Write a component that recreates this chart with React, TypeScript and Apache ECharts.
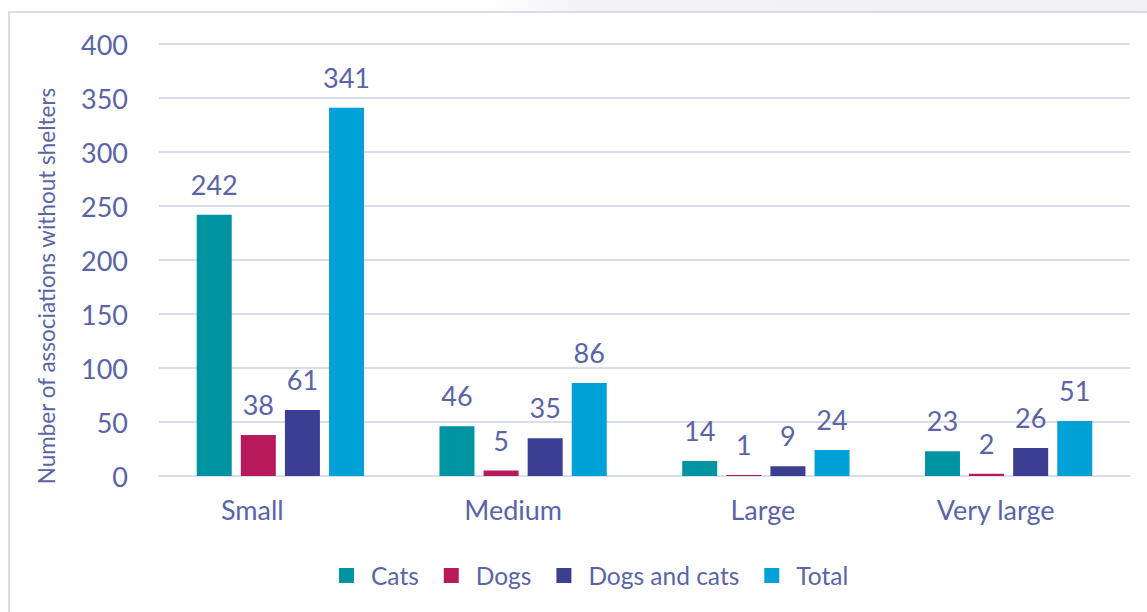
import React, { useEffect, useRef } from "react";
import * as echarts from "echarts";

const categories = ["Small", "Medium", "Large", "Very large"];
const categoryShift = [56, 20, 6, 26];
const seriesNames = ["Cats", "Dogs", "Dogs and cats", "Total"];
const cats = [242, 46, 14, 23];
const dogs = [38, 5, 1, 2];
const dogsAndCats = [61, 35, 9, 26];
const total = [341, 86, 24, 51];
const yTicks = [0, 50, 100, 150, 200, 250, 300, 350, 400];
const yTitle = "Number of associations without shelters";

const colors = ["#0093A1", "#B8195A", "#3C3F91", "#00A1D6"];
const textColor = "#5A64A6";
const font = "Lato";

export default function App() {
  const ref = useRef<HTMLDivElement>(null);
  useEffect(() => {
    document.body.style.margin = "0";
    const chart = echarts.init(ref.current!, null, { renderer: "svg" });
    const data = [cats, dogs, dogsAndCats, total];
    chart.setOption({
      animation: false,
      backgroundColor: "#ffffff",
      textStyle: { fontFamily: font },
      grid: { left: 159, right: 17, top: 44, bottom: 136 },
      legend: {
        left: 334,
        top: 558,
        itemWidth: 15,
        itemHeight: 15,
        itemGap: 25,
        icon: "rect",
        data: seriesNames,
        textStyle: { color: textColor, fontSize: 24.5, fontFamily: font, padding: [0, 0, 0, 12] },
      },
      graphic: [
        {
          type: "rect",
          shape: { x: 480, y: 0, width: 680, height: 12 },
          style: {
            fill: new echarts.graphic.LinearGradient(0, 0, 1, 0, [
              { offset: 0, color: "rgba(240,240,244,0)" },
              { offset: 0.15, color: "rgba(240,240,244,0.8)" },
              { offset: 1, color: "rgba(240,240,244,0.9)" },
            ]),
          },
          z: -2,
          silent: true,
        },
        {
          type: "rect",
          shape: { x: 9, y: 12, width: 1300, height: 800 },
          style: { fill: "none", stroke: "#D8DBEE", lineWidth: 2 },
          z: -1,
          silent: true,
        },
        {
          type: "text",
          x: 46,
          y: 286,
          rotation: Math.PI / 2,
          style: {
            text: yTitle,
            fill: textColor,
            fontSize: 22.5,
            fontFamily: font,
            align: "center",
            verticalAlign: "middle",
          },
          silent: true,
        },
      ],
      xAxis: {
        type: "category",
        data: categories.map((c, i) => ({
          value: c,
          textStyle: { padding: [0, categoryShift[i], 0, 0] },
        })),
        axisLine: { show: true, lineStyle: { color: "#D9DCEF", width: 2 } },
        axisTick: { show: false },
        axisLabel: { color: textColor, fontSize: 27, fontFamily: font, margin: 20 },
      },
      yAxis: {
        type: "value",
        min: 0,
        max: 400,
        interval: 50,
        axisLine: { show: false },
        axisTick: { show: false },
        splitLine: { lineStyle: { color: "#D9DCEF", width: 2 } },
        axisLabel: {
          color: textColor,
          fontSize: 27,
          fontFamily: font,
          margin: 31,
          formatter: (v: number) => (yTicks.includes(v) ? String(v) : ""),
        },
      },
      series: seriesNames.map((name, i) => ({
        name,
        type: "bar",
        data: data[i],
        barWidth: 35,
        barGap: "26%",
        itemStyle: { color: colors[i] },
        label: {
          show: true,
          position: "top",
          distance: 17,
          color: textColor,
          fontSize: 27,
          fontFamily: font,
        },
      })),
    });
    return () => chart.dispose();
  }, []);
  return <div ref={ref} style={{ width: 1147, height: 612 }} />;
}
